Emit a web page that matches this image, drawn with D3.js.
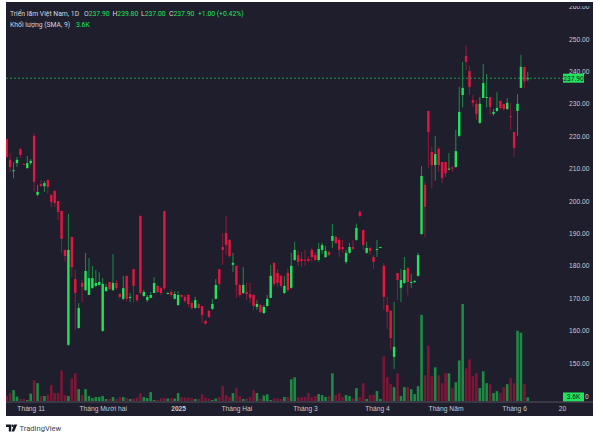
<!DOCTYPE html>
<html><head><meta charset="utf-8">
<script src="https://cdn.jsdelivr.net/npm/d3@7"></script>
<style>body{margin:0;background:#fff;} svg{display:block;font-family:Roboto,"Noto Sans",sans-serif;}</style>
</head><body><svg id="c" width="600" height="438"></svg>
<script>
const opens = [219.1,212.7,209.2,211.7,216.0,211.5,210.2,211.7,220.1,201.9,205.2,204.6,206.5,201.9,203.1,200.0,196.9,184.9,155.6,188.9,175.9,160.8,174.7,172.5,171.0,173.1,173.8,174.1,159.9,172.2,175.0,172.5,174.7,171.3,169.8,176.9,170.1,179.0,171.0,195.4,
170.7,169.4,170.1,171.6,173.8,173.1,196.9,171.3,171.9,169.8,167.9,171.0,170.4,171.0,168.5,167.0,168.2,167.6,163.0,166.1,166.7,169.8,179.0,185.8,190.1,188.0,180.3,180.0,174.1,171.6,
171.9,171.3,171.0,167.3,167.9,165.4,167.6,170.1,180.9,177.8,176.9,171.6,177.8,173.2,181.8,183.3,182.1,181.9,182.1,184.9,183.3,181.8,184.9,182.7,184.3,187.7,188.9,188.0,185.8,181.2,
184.0,185.8,188.0,196.6,191.1,184.0,185.5,182.7,184.9,185.5,180.0,167.9,166.1,151.9,177.8,173.2,174.7,179.3,174.9,175.0,176.9,189.8,205.0,227.8,215.1,211.1,216.1,212.0,212.0,209.8,
210.3,210.5,220.1,232.7,244.8,240.1,231.2,230.0,224.1,231.8,232.0,232.1,226.9,227.8,230.9,230.0,228.4,226.2,221.3,227.8,234.9,241.4,237.9];
const highs = [219.3,214.8,212.0,213.6,216.4,211.6,213.9,213.0,221.0,204.9,206.5,206.2,206.6,202.0,203.3,200.0,197.0,185.0,196.0,189.0,178.7,168.5,175.6,184.0,182.4,180.0,178.7,178.0,176.2,174.5,175.0,183.6,175.6,171.6,176.9,176.9,171.6,179.0,171.3,195.5,
172.6,171.0,171.9,176.5,174.1,173.5,197.0,171.8,172.8,172.2,172.2,171.2,171.0,171.3,169.0,170.4,168.5,167.6,163.3,166.4,169.8,175.9,179.0,190.1,195.4,188.2,184.0,180.2,174.4,179.6,
174.7,174.7,171.3,169.5,168.2,167.9,171.0,180.3,181.2,179.0,177.2,176.9,179.3,184.0,187.4,184.6,184.3,185.0,183.0,185.6,184.3,187.1,187.1,186.1,184.6,192.9,189.5,188.6,188.0,184.9,
187.1,188.0,193.0,197.2,191.1,187.4,185.8,183.3,188.0,185.9,180.9,170.4,166.4,168.8,177.8,179.0,182.7,179.6,177.5,175.6,184.0,210.8,206.0,227.8,216.7,220.1,216.7,212.0,212.0,214.8,
210.8,221.9,235.3,242.9,248.1,241.7,232.7,231.2,232.1,242.3,239.2,232.1,228.4,233.6,230.9,230.0,231.8,230.3,221.3,233.0,245.1,241.4,239.8];
const lows = [213.3,209.0,207.0,210.5,213.3,211.2,209.9,211.2,202.8,201.5,204.3,202.8,202.2,198.1,198.1,194.1,184.0,181.2,155.3,176.5,160.2,160.5,168.8,172.2,171.0,173.0,173.5,173.8,159.6,172.0,172.5,172.2,172.5,170.0,169.4,169.0,168.8,168.6,168.8,171.0,
170.4,168.8,170.0,171.6,171.5,171.0,172.5,171.2,170.4,169.6,167.6,170.2,168.6,167.3,166.4,166.7,166.7,162.4,161.8,163.9,166.4,169.6,172.5,180.3,183.3,182.4,178.1,170.1,170.4,171.3,
169.5,168.5,166.4,166.4,165.4,165.2,167.3,170.0,173.8,173.5,173.2,171.3,171.9,172.9,181.5,179.9,179.6,180.0,181.0,181.2,181.5,181.2,183.7,182.4,183.0,185.5,186.7,182.7,184.0,180.6,
183.7,184.9,187.7,194.8,184.9,183.7,183.3,179.0,182.7,185.4,166.4,160.5,154.0,148.2,169.5,168.8,174.4,170.9,173.2,174.7,176.6,189.5,188.9,210.2,203.9,206.3,209.0,205.5,207.4,209.5,
209.0,210.2,219.8,228.9,240.4,232.7,229.0,225.0,223.8,231.8,228.9,226.5,226.3,227.5,228.1,227.8,228.1,221.9,213.6,220.1,234.9,234.9,237.0];
const closes = [213.6,210.5,209.5,212.7,214.2,211.3,211.7,212.4,205.9,202.8,204.6,205.5,204.3,199.7,199.4,196.6,188.3,183.0,184.9,179.6,171.6,167.0,173.5,178.4,176.2,176.2,174.7,175.0,174.4,173.5,172.8,174.7,173.1,170.4,173.1,169.8,170.4,173.8,169.4,171.6,
171.9,170.4,171.0,174.7,171.9,171.6,173.1,171.6,171.0,171.3,171.0,170.4,169.1,168.2,167.0,169.4,167.0,164.8,162.1,164.2,168.2,174.1,174.4,184.9,186.4,183.0,180.9,174.1,171.0,174.1,
171.3,170.1,167.6,168.2,165.8,167.3,169.8,176.9,174.4,174.7,173.8,173.8,172.5,180.0,184.9,181.2,181.5,181.7,181.5,182.7,181.8,185.2,186.4,184.6,183.3,189.2,187.0,184.9,185.2,184.0,
185.8,185.2,191.7,195.4,186.4,185.5,184.6,181.2,185.2,185.8,170.4,165.8,157.7,155.0,175.6,175.6,178.7,175.0,175.0,175.3,183.3,207.7,198.2,221.3,211.1,214.5,211.1,207.1,208.6,210.0,
210.1,215.4,227.5,234.9,242.9,235.2,230.3,226.9,230.0,236.4,232.1,229.0,227.5,228.7,228.7,228.4,230.3,225.9,216.4,230.0,241.4,236.9,237.9];
const volumes = [5,8,11,4.5,2,2,1,7.5,21,18,5,5,6.5,16,8,8,31,6,5,23,28,12,6,12,5,3,4,4,5,2,2,4,2,4,4,3,2,2.5,3.5,8,
4,3,9,1,1,3,3,2.5,3,2.5,8,4,3.5,3.5,3,2,2,7,3.5,2.5,1,2.5,4,15,6,4,8,13,5,2,2.5,4,11,8,2.5,5.5,6.7,1,2.5,2.5,2,4,4,22,24,4,
3.7,4,8,3.7,5,7,6,4,5,28,6,8,4,6,5,3,13,4,18,2,6,6,10,2,45,24,17,14,28,5,14,14,12,7,15,87,26,56,25,34,26,18,28,28,13,19,41,98,33,42,25,28,13,30,18,17,8,10,8,14,17,23,18,71,69,17,3.6];
const priceTicks = [150,160,170,180,190,200,210,220,230,240,250,260];
const timeTickIndex = [7,28,50,67,87,108,128,148,162];
const timeTickLabels = ["Tháng 11","Tháng Mười hai","2025","Tháng Hai","Tháng 3","Tháng 4","Tháng Năm","Tháng 6","20"];
const lastPrice = 237.90, lastVolume = "3.6K";

const svg = d3.select("#c");
const UP="#22e35c", DOWN="#e3163f", UPW="#1f8c45", DOWNW="#8e1b3b", UPV="#1e8a43", DOWNV="#7a1736";
const BG="#1e1e2d", TXT="#c9c9d2";
const X0=6, X1=593, Y0=2, PR=563, AY=402, YB=416;

svg.append("rect").attr("x",X0).attr("y",Y0).attr("width",X1-X0).attr("height",YB-Y0).attr("fill",BG);
const defs=svg.append("defs");
defs.append("clipPath").attr("id","plot").append("rect").attr("x",X0).attr("y",Y0).attr("width",PR-X0).attr("height",AY-Y0);
defs.append("clipPath").attr("id","pax").append("rect").attr("x",X0).attr("y",6).attr("width",X1-X0).attr("height",AY-6);

const x = d3.scaleLinear().domain([0,152]).range([6.7,527.8]);
const y = d3.scaleLinear().domain([150,250]).range([363,39]);
const yv = d3.scaleLinear().domain([0,100]).range([401,302]);

const idx = d3.range(opens.length);
const plot = svg.append("g").attr("clip-path","url(#plot)");
const isUp = i => closes[i] >= opens[i];

plot.selectAll("rect.v").data(idx).join("rect").attr("class","v")
  .attr("x",i=>x(i)-1.3).attr("width",2.6)
  .attr("y",i=>yv(volumes[i])).attr("height",i=>yv(0)-yv(volumes[i]))
  .attr("fill",i=>isUp(i)?UPV:DOWNV);

plot.selectAll("line.w").data(idx).join("line").attr("class","w")
  .attr("x1",i=>x(i)).attr("x2",i=>x(i))
  .attr("y1",i=>y(highs[i])).attr("y2",i=>y(lows[i]))
  .attr("stroke",i=>isUp(i)?UPW:DOWNW).attr("stroke-width",1);

plot.selectAll("rect.b").data(idx).join("rect").attr("class","b")
  .attr("x",i=>x(i)-1.2).attr("width",2.4)
  .attr("y",i=>y(Math.max(opens[i],closes[i])))
  .attr("height",i=>Math.max(1,Math.abs(y(opens[i])-y(closes[i]))))
  .attr("fill",i=>isUp(i)?UP:DOWN);

plot.append("line").attr("x1",X0).attr("x2",PR).attr("y1",y(lastPrice)).attr("y2",y(lastPrice))
  .attr("stroke","#1f9a4a").attr("stroke-width",1).attr("stroke-dasharray","2,2");

const pax = svg.append("g").attr("clip-path","url(#pax)");
const ax = pax.append("g").attr("transform",`translate(${PR+2},0)`)
  .call(d3.axisRight(y).tickValues(priceTicks).tickFormat(d3.format(".2f")).tickSize(0).tickPadding(4));
ax.select(".domain").remove();
ax.selectAll("text").attr("fill",TXT).attr("font-size",6.7);

pax.append("rect").attr("x",PR).attr("y",y(lastPrice)-4.5).attr("width",21).attr("height",9).attr("fill",UP);
pax.append("text").attr("x",PR+10.5).attr("y",y(lastPrice)).attr("dy","0.35em").attr("text-anchor","middle")
  .attr("font-size",6.6).attr("fill","#10131a").text(d3.format(".2f")(lastPrice));
pax.append("text").attr("x",PR+22).attr("y",397).attr("dy","0.35em").attr("font-size",6.6).attr("fill",TXT).text("0");
pax.append("rect").attr("x",PR).attr("y",392.5).attr("width",21).attr("height",9).attr("fill",UP);
pax.append("text").attr("x",PR+10.5).attr("y",397).attr("dy","0.35em").attr("text-anchor","middle")
  .attr("font-size",6.6).attr("fill","#10131a").text(lastVolume);

svg.append("line").attr("x1",X0).attr("x2",X1).attr("y1",AY).attr("y2",AY).attr("stroke","#55555f").attr("stroke-width",1);
const tx = svg.append("g").attr("transform",`translate(0,${AY})`)
  .call(d3.axisBottom(x).tickValues(timeTickIndex).tickFormat((d,i)=>timeTickLabels[i]).tickSize(0).tickPadding(4.5));
tx.select(".domain").remove();
tx.selectAll("text").attr("fill",TXT).attr("font-size",6.7).attr("font-weight",(d,i)=>timeTickLabels[i]==="2025"?"bold":null);

const hdr = svg.append("g").attr("font-size",6.8);
hdr.append("text").attr("x",10).attr("y",16).attr("fill","#d6d6de").text("Triển lãm Việt Nam, 1D");
const ohlc=[["O",opens[152],84],["H",highs[152],112.5],["L",lows[152],141],["C",closes[152],169]];
ohlc.forEach(([k,v,px])=>{
  const t=hdr.append("text").attr("x",px).attr("y",16);
  t.append("tspan").attr("fill","#d6d6de").text(k);
  t.append("tspan").attr("fill",UP).text(d3.format(".2f")(v));
});
const chg = closes[152]-closes[151];
hdr.append("text").attr("x",198).attr("y",16).attr("fill",UP)
  .text(`+${d3.format(".2f")(chg)} (+${d3.format(".2f")(chg/closes[151]*100)}%)`);
hdr.append("text").attr("x",10).attr("y",26.5).attr("fill","#d6d6de").text("Khối lượng (SMA, 9)");
hdr.append("text").attr("x",76).attr("y",26.5).attr("fill",UP).text(lastVolume);

const ft = svg.append("g");
ft.append("path").attr("d","M6,424.5h5.2v7h-2.4v-4.6h-2.8z").attr("fill","#131722");
ft.append("circle").attr("cx",12.6).attr("cy",425.7).attr("r",1.2).attr("fill","#131722");
ft.append("path").attr("d","M14.2,424.5h3l-3,7h-2.6z").attr("fill","#131722");
ft.append("text").attr("x",19.5).attr("y",431).attr("font-size",7.6).attr("fill","#3a3f4b").text("TradingView");
</script></body></html>
